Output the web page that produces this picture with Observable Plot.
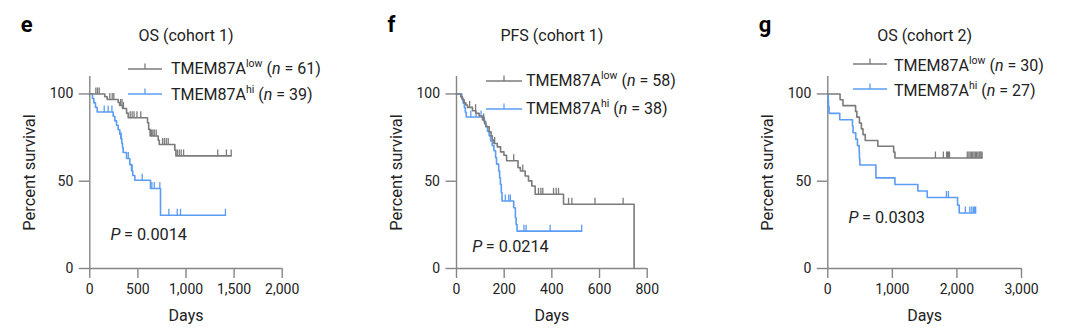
<!DOCTYPE html>
<html><head><meta charset="utf-8">
<script src="https://cdn.jsdelivr.net/npm/d3@7"></script>
<script src="https://cdn.jsdelivr.net/npm/@observablehq/plot@0.6"></script>
<style>
  html,body{margin:0;padding:0;background:#fff;}
  body{width:1080px;height:336px;overflow:hidden;position:relative;font-family:Roboto,"Noto Sans",sans-serif;color:#222;}
  .panel{position:absolute;top:0;width:360px;height:336px;}
  .leg{position:absolute;font-size:16px;white-space:nowrap;line-height:1;transform:translateY(-50%);}
  .leg sup{font-size:10.5px;position:relative;top:-1px;vertical-align:super;line-height:0;}
  .glyph{position:absolute;overflow:visible;}
</style>
</head><body>
<script>
// ---------- data ----------
// Panel e: OS (cohort 1)
const eLowDays   = [0,156,181,295,310,340,382,399,600,612,627,711,722,884,895];
const eLowSurv   = [100,98.4,96.8,95.1,93.4,91.7,89.0,86.4,83.5,79.7,75.9,73.5,71.0,67.8,64.5];
const eLowCensor = [63,80,98,208,233,250,320,335,350,420,440,460,490,530,640,655,670,690,756,775,795,815,910,930,950,975,1330,1420,1470];
const eHiDays    = [0,28,42,59,77,243,260,278,295,312,322,333,340,347,382,416,434,446,468,631,735];
const eHiSurv    = [100,97.4,94.9,92.3,89.7,87.2,84.6,82.0,79.5,76.9,74.4,71.8,69.2,66.5,63.0,59.5,56.0,53.3,50.6,45.8,30.5];
const eHiCensor  = [150,191,230,326,400,440,545,645,670,728,822,909,943,1410];

// Panel f: PFS (cohort 1)
const fLowDays   = [0,18,25,32,39,46,67,81,95,109,118,123,137,145,150,157,171,185,199,210,258,268,288,302,316,330,449,745];
const fLowSurv   = [100,98.3,96.6,95.0,93.7,92.3,90.4,88.9,87.4,85.1,83.0,81.2,78.3,76.0,73.6,71.6,69.7,66.8,64.9,61.7,57.8,55.9,53.0,50.2,47.3,42.5,36.8,0];
const fLowCensor = [55,80,114,160,240,278,344,354,362,407,418,428,470,484,581,699];
const fHiDays    = [0,22,28,33,37,41,116,123,130,137,143,150,157,164,168,177,181,184,188,191,240,247,250,254];
const fHiSurv    = [100,97.4,94.7,92.1,89.5,86.8,84.1,81.4,78.7,76.0,73.2,70.4,67.5,63.5,59.8,55.9,52.0,48.3,43.5,38.7,34.8,29.1,25.2,21.4];
const fHiCensor  = [60,82,103,205,219,226,283,292,393,525];

// Panel g: OS (cohort 2)
const gLowDays   = [0,190,235,430,450,490,520,545,580,775,1020,1040];
const gLowSurv   = [100,96.7,93.3,90.0,86.7,83.3,80.0,76.7,73.3,70.0,66.7,63.3];
const gLowCensor = [1667,1790,1840,1855,1870,1885,2160,2185,2205,2225,2245,2265,2285,2305,2325,2345,2360,2375,2390];
const gHiDays    = [0,5,10,20,185,382,392,433,459,486,490,496,745,1040,1395,1540,2010,2035];
const gHiSurv    = [100,96.3,92.6,88.9,85.2,81.5,77.8,74.1,70.4,66.7,63.0,59.3,51.9,48.1,44.4,40.7,36.3,31.8];
const gHiCensor  = [1837,1868,2130,2200,2230,2255,2275,2290];

// labels
const panelLetters = ["e","f","g"];
const panelTitles  = ["OS (cohort 1)","PFS (cohort 1)","OS (cohort 2)"];
const xTickSets    = [[0,500,1000,1500,2000],[0,200,400,600,800],[0,1000,2000,3000]];
const yTicks       = [0,50,100];
const nLow         = [61,58,30];
const nHi          = [39,38,27];
const pValues      = ["0.0014","0.0214","0.0303"];

// ---------- styling / layout ----------
const GRAY = "#7b7b7b", BLUE = "#5b9cf4", AXIS = "#858585", INK = "#222";
const layout = [
  {left:0,   marginLeft:89.3,  marginRight:78.3, pAt:[215,19.5]},
  {left:360, marginLeft:96,    marginRight:73.3, pAt:[66,12.3]},
  {left:720, marginLeft:107.3, marginRight:59,   pAt:[320,29.2]}
];
const legendPos = [
  {x1:128,x2:162,yLow:69,yHi:94, tx:171, tyLow:69, tyHi:95},
  {x1:486,x2:522,yLow:81,yHi:109,tx:526, tyLow:81, tyHi:109},
  {x1:853,x2:887,yLow:64,yHi:89, tx:894, tyLow:66, tyHi:91}
];

const series = [
  [{days:eLowDays,surv:eLowSurv,cens:eLowCensor,color:GRAY},{days:eHiDays,surv:eHiSurv,cens:eHiCensor,color:BLUE}],
  [{days:fLowDays,surv:fLowSurv,cens:fLowCensor,color:GRAY},{days:fHiDays,surv:fHiSurv,cens:fHiCensor,color:BLUE}],
  [{days:gLowDays,surv:gLowSurv,cens:gLowCensor,color:GRAY},{days:gHiDays,surv:gHiSurv,cens:gHiCensor,color:BLUE}]
];

const TICK = 6.5;
const censorSymbol = {draw(ctx){ ctx.moveTo(0,0); ctx.lineTo(0,-TICK); }};

function stepAt(days, surv, t){
  let v = surv[0];
  for (let i=0;i<days.length;i++){ if (days[i] <= t) v = surv[i]; }
  return v;
}
function lineRows(s){
  const rows = s.days.map((d,i)=>({x:d,y:s.surv[i]}));
  const last = d3.max(s.cens);
  if (last > s.days[s.days.length-1]) rows.push({x:last,y:s.surv[s.surv.length-1]});
  return rows;
}
function censorRows(s){ return s.cens.map(t=>({x:t,y:stepAt(s.days,s.surv,t)})); }

const FONT = "Roboto, 'Noto Sans', sans-serif";

for (let k=0;k<3;k++){
  const L = layout[k];
  const ticks = xTickSets[k];
  const xMax = d3.max(ticks);
  const marks = [
    Plot.ruleX([0],{y1:0,y2:110,stroke:AXIS,strokeWidth:1.4}),
    Plot.ruleY([0],{x1:0,x2:xMax,stroke:AXIS,strokeWidth:1.4}),
    Plot.axisY({ticks:yTicks,tickSize:10.5,tickPadding:6,stroke:AXIS,strokeWidth:1.4,fill:INK,label:null,fontSize:14}),
    Plot.axisX({ticks:ticks,tickSize:10,tickPadding:6,stroke:AXIS,strokeWidth:1.4,fill:INK,label:null,tickFormat:d3.format(","),fontSize:14})
  ];
  for (const s of series[k].slice().reverse()){
    marks.push(Plot.line(lineRows(s),{x:"x",y:"y",curve:"step-after",stroke:s.color,strokeWidth:1.6}));
    marks.push(Plot.dot(censorRows(s),{x:"x",y:"y",symbol:censorSymbol,fill:"none",stroke:s.color,strokeWidth:1.3,r:3}));
  }
  const pRow = [{x:L.pAt[0],y:L.pAt[1]}];
  marks.push(
    Plot.text(pRow,{x:"x",y:"y",text:()=>"P",fontStyle:"italic",textAnchor:"start",fontSize:16.3,fill:INK}),
    Plot.text(pRow,{x:"x",y:"y",text:()=>"= "+pValues[k],dx:13.5,textAnchor:"start",fontSize:16.3,fill:INK}),
    Plot.text(["Percent survival"],{frameAnchor:"left",rotate:-90,dx:-60,textAnchor:"middle",lineAnchor:"middle",fontSize:16.5,fill:INK}),
    Plot.text(["Days"],{frameAnchor:"bottom",dy:47,textAnchor:"middle",lineAnchor:"middle",fontSize:16,fill:INK}),
    Plot.text([panelTitles[k]],{frameAnchor:"top",dy:-41,textAnchor:"middle",lineAnchor:"middle",fontSize:16,fill:INK}),
    Plot.text([panelLetters[k]],{frameAnchor:"top-left",dx:-69,dy:-52,lineAnchor:"middle",textAnchor:"start",fontSize:22,fontWeight:"bold",fill:"#000"})
  );
  const chart = Plot.plot({
    width:360, height:336,
    marginLeft:L.marginLeft, marginRight:L.marginRight, marginTop:76, marginBottom:68,
    x:{domain:[0,xMax]}, y:{domain:[0,110]},
    style:{fontFamily:FONT,fontSize:"14px",color:INK,background:"transparent",overflow:"visible"},
    marks
  });
  const div = document.createElement("div");
  div.className = "panel";
  div.style.left = L.left+"px";
  div.appendChild(chart);
  document.body.appendChild(div);

  // legend
  const P = legendPos[k];
  const entries = [
    {color:GRAY,y:P.yLow,ty:P.tyLow,sup:"low",n:nLow[k]},
    {color:BLUE,y:P.yHi,ty:P.tyHi,sup:"hi",n:nHi[k]}
  ];
  for (const e of entries){
    const w = P.x2-P.x1;
    const g = document.createElementNS("http://www.w3.org/2000/svg","svg");
    g.setAttribute("class","glyph");
    g.setAttribute("width",w); g.setAttribute("height",12);
    g.style.left = P.x1+"px"; g.style.top = (e.y-10)+"px";
    g.innerHTML = `<line x1="0" x2="${w}" y1="10" y2="10" stroke="${e.color}" stroke-width="1.6"/>`+
                  `<line x1="${w/2}" x2="${w/2}" y1="10" y2="${10-TICK+1}" stroke="${e.color}" stroke-width="1.3"/>`;
    document.body.appendChild(g);
    const t = document.createElement("div");
    t.className = "leg";
    t.style.left = P.tx+"px"; t.style.top = e.ty+"px";
    t.innerHTML = `TMEM87A<sup>${e.sup}</sup> (<i>n</i> = ${e.n})`;
    document.body.appendChild(t);
  }
}
</script>
</body></html>
